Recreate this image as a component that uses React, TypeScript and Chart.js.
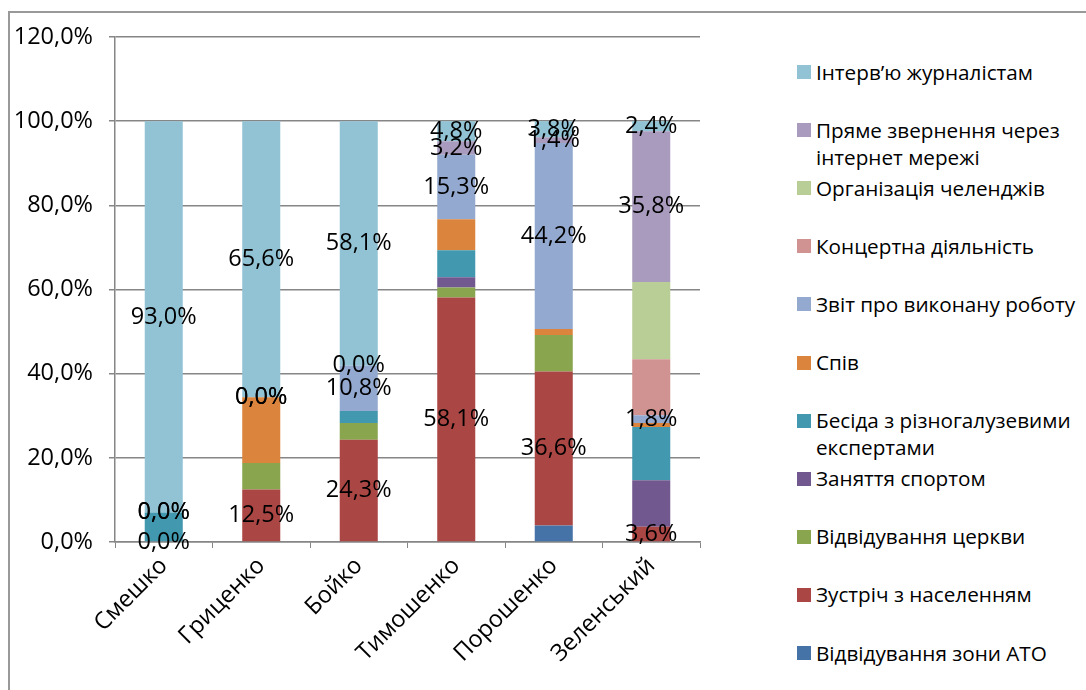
import React, { useEffect, useRef } from "react";
import { Chart, registerables } from "chart.js";

Chart.register(...registerables);

const candidates = ["Смешко", "Гриценко", "Бойко", "Тимошенко", "Порошенко", "Зеленський"];

const yTicks = [0, 20, 40, 60, 80, 100, 120];

// series, bottom to top of the stack (values in %)
const ato = [0, 0, 0, 0, 3.9, 0];
const meeting = [0, 12.5, 24.3, 58.1, 36.6, 3.6];
const church = [0, 6.3, 4.0, 2.4, 8.7, 0];
const sport = [0, 0, 0, 2.4, 0, 11.1];
const experts = [7.0, 0, 2.8, 6.4, 0, 12.6];
const singing = [0, 15.6, 0, 7.4, 1.4, 1.0];
const report = [0, 0, 10.8, 15.3, 44.2, 1.8];
const concert = [0, 0, 0, 0, 0, 13.3];
const challenges = [0, 0, 0, 0, 0, 18.4];
const direct = [0, 0, 0, 3.2, 1.4, 35.8];
const interview = [93.0, 65.6, 58.1, 4.8, 3.8, 2.4];

const seriesNames = [
  "Відвідування зони АТО",
  "Зустріч з населенням",
  "Відвідування церкви",
  "Заняття спортом",
  "Бесіда з різногалузевими експертами",
  "Спів",
  "Звіт про виконану роботу",
  "Концертна діяльність",
  "Організація челенджів",
  "Пряме звернення через інтернет мережі",
  "Інтерв’ю журналістам",
];
const seriesValues = [ato, meeting, church, sport, experts, singing, report, concert, challenges, direct, interview];
const seriesColors = [
  "#4572A7", "#AA4643", "#89A54E", "#71588F", "#4198AF", "#DB843D",
  "#93A9CF", "#D19392", "#B9CD96", "#A99BBD", "#92C3D5",
];
const labeledSeries = [false, true, false, false, false, false, true, false, false, true, true];

const FONT = "'Open Sans', 'DejaVu Sans', sans-serif";
const fmt = (v: number) => v.toFixed(1).replace(".", ",") + "%";

const labelPlugin = {
  id: "segLabels",
  afterDatasetsDraw(chart: any) {
    const ctx = chart.ctx;
    ctx.save();
    ctx.font = `23.5px ${FONT}`;
    ctx.fillStyle = "#000";
    ctx.textAlign = "center";
    ctx.textBaseline = "middle";
    chart.data.datasets.forEach((ds: any, di: number) => {
      if (!labeledSeries[di]) return;
      const meta = chart.getDatasetMeta(di);
      meta.data.forEach((el: any, i: number) => {
        const y = (el.y + el.base) / 2;
        ctx.fillText(fmt(ds.data[i]), el.x, y);
      });
    });
    ctx.restore();
  },
};

export default function App() {
  const ref = useRef<HTMLCanvasElement>(null);
  useEffect(() => {
    Chart.defaults.font.family = FONT;
    const chart = new Chart(ref.current!, {
      type: "bar",
      data: {
        labels: candidates,
        datasets: seriesNames.map((name, i) => ({
          label: name,
          data: seriesValues[i],
          backgroundColor: seriesColors[i],
          borderWidth: 0,
          categoryPercentage: 1,
          barPercentage: 0.39,
        })),
      },
      options: {
        responsive: false,
        animation: false,
        layout: { padding: { top: 37, right: 60, left: 0, bottom: 0 } },
        plugins: { legend: { display: false }, tooltip: { enabled: false } },
        scales: {
          x: {
            stacked: true,
            grid: { display: true, drawOnChartArea: false, drawTicks: true, tickLength: 6, color: "#868686", offset: true },
            border: { color: "#868686", width: 1.5 },
            ticks: { font: { size: 23.5, family: FONT }, color: "#000", minRotation: 45, maxRotation: 45, autoSkip: false, padding: 4 },
            afterFit: (s: any) => { s.height = 148; },
          },
          y: {
            stacked: true,
            min: yTicks[0],
            max: yTicks[yTicks.length - 1],
            afterBuildTicks: (s: any) => { s.ticks = yTicks.map((v) => ({ value: v })); },
            ticks: { font: { size: 23.5, family: FONT }, color: "#000", padding: 16, callback: (v: any) => fmt(Number(v)) },
            grid: { color: "#868686", tickLength: 6, lineWidth: 1.5 },
            border: { color: "#868686", width: 1.5 },
            afterFit: (s: any) => { s.width = 115; },
          },
        },
      },
      plugins: [labelPlugin],
    } as any);
    return () => chart.destroy();
  }, []);

  const legendItems = seriesNames.map((n, i) => ({ n, c: seriesColors[i] })).reverse();

  return (
    <div style={{ position: "fixed", left: 0, top: 0, width: 1086, height: 690, background: "#fff", overflow: "hidden" }}>
      <div style={{ position: "absolute", left: 8, top: 11, width: 1080, height: 690, borderLeft: "2px solid #999", borderTop: "2px solid #999" }} />
      <canvas ref={ref} width={760} height={690} style={{ position: "absolute", left: 0, top: 0, width: 760, height: 690 }} />
      {legendItems.map((it, i) => (
        <div
          key={it.n}
          style={{
            position: "absolute",
            left: 797,
            top: 72 + i * 58.1 - 13.5,
            width: 289,
            display: "flex",
            alignItems: "flex-start",
            fontFamily: FONT,
            fontSize: 20.7,
            lineHeight: "27px",
            color: "#000",
          }}
        >
          <span style={{ display: "inline-block", width: 14, height: 14, marginTop: 6.5, marginRight: 5, background: it.c, flex: "none" }} />
          <span style={{ width: 270 }}>{it.n}</span>
        </div>
      ))}
    </div>
  );
}
